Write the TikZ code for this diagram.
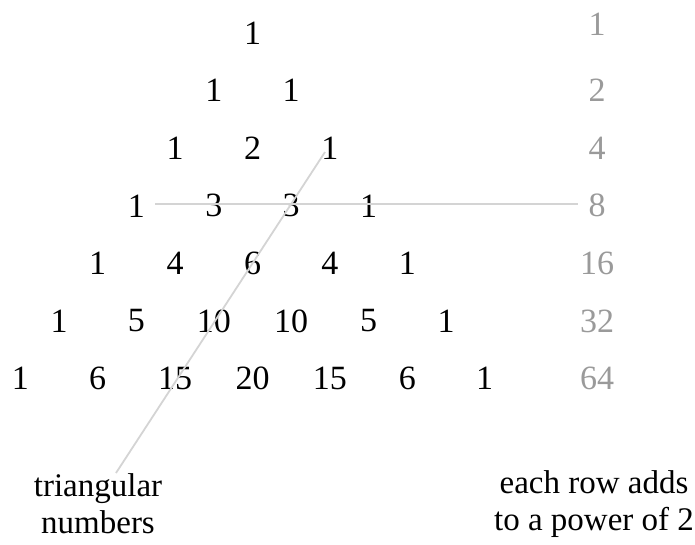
\documentclass[tikz,border=0pt]{standalone}
\usepackage{fontspec}
\setmainfont{Liberation Serif}
\definecolor{sumgray}{HTML}{9A9A9A}
\definecolor{linegray}{HTML}{D4D4D4}
\begin{document}
\begin{tikzpicture}[x=1pt,y=-1pt,
  num/.style={inner sep=0pt,anchor=center,font=\fontsize{34}{40}\selectfont},
  sum/.style={num,text=sumgray},
  lab/.style={inner sep=0pt,align=center,font=\fontsize{33}{37}\selectfont},
  guide/.style={draw=linegray,line width=1.8pt}]
\useasboundingbox (0,0) rectangle (695,544);
% rows
\foreach \r/\vals in {0/{1},1/{1,1},2/{1,2,1},3/{1,3,3,1},4/{1,4,6,4,1},5/{1,5,10,10,5,1},6/{1,6,15,20,15,6,1}}{
  \foreach \v [count=\k from 0] in \vals {
    \node[num] (n\r-\k) at ({252.5-38.7*\r+77.4*\k},{33+57.6*\r}) {\v};
  }
}
% guide lines
\coordinate (hs) at (155,204);
\coordinate (he) at (578,204);
\coordinate (ds) at (325,152);
\coordinate (de) at (116,473);
\draw[guide] (hs) -- (he);
\draw[guide] (ds) -- (de);
% sums
\node[sum] (s0) at (597,24) {1};
\foreach \r/\s in {1/2,2/4,3/8,4/16,5/32,6/64}{
  \node[sum] (s\r) at (597,{33+57.6*\r}) {\s};
}
\node[lab] (tri) at (98,504) {triangular\\numbers};
\node[lab] (pow) at (594,504) {each row adds\\to a power of 2};
\end{tikzpicture}
\end{document}
